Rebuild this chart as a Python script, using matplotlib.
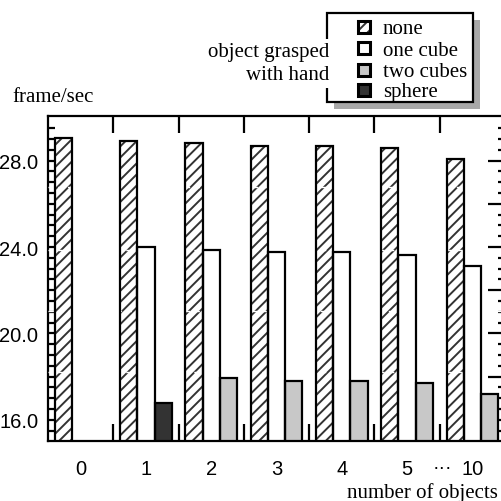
import numpy as np
import matplotlib
matplotlib.use("Agg")
import matplotlib.pyplot as plt
from matplotlib.patches import Rectangle
import matplotlib.transforms as mtransforms

# ---------------- data ----------------
groups = ['0', '1', '2', '3', '4', '5', '10']
series = ['none', 'one cube', 'two cubes', 'sphere']
none_vals = [29.05, 28.93, 28.82, 28.70, 28.70, 28.58, 28.08]
one_cube_vals = [np.nan, 24.02, 23.86, 23.76, 23.76, 23.63, 23.14]
two_cubes_vals = [np.nan, np.nan, 17.93, 17.81, 17.81, 17.70, 17.19]
sphere_vals = [np.nan, 16.78, np.nan, np.nan, np.nan, np.nan, np.nan]
ytick_vals = [16, 18, 20, 22, 24, 26, 28]
ytick_labels = ['16.0', '', '20.0', '', '24.0', '', '28.0']
white_grid = [18.2, 21.05, 23.85, 26.8]

W = H = 502
fig = plt.figure(figsize=(W / 100, H / 100), dpi=100)
plt.rcParams['hatch.linewidth'] = 1.4

# axes placement in pixels
ax_l, ax_r, ax_t, ax_b = 48, 505, 117, 442.3
ax = fig.add_axes([ax_l / W, 1 - ax_b / H, (ax_r - ax_l) / W, (ax_b - ax_t) / H])

x = np.arange(len(groups))
bw = 0.264
hatch_col = '#333333'
styles = [
    (none_vals, -bw, 'white', '///'),
    (one_cube_vals, 0.0, 'white', None),
    (two_cubes_vals, bw, '#c8c8c8', None),
    (sphere_vals, bw, '#333333', None),
]
for vals, off, fc, hatch in styles:
    vals = np.array(vals, dtype=float)
    if hatch:
        ax.bar(x + off, vals, bw, color=fc, edgecolor=hatch_col, hatch=hatch,
               linewidth=0, zorder=2)
    else:
        ax.bar(x + off, vals, bw, color=fc, edgecolor='none', linewidth=0, zorder=2)
    ax.bar(x + off, vals, bw, facecolor='none', edgecolor='black',
           linewidth=1.6, zorder=4)

for g in white_grid:
    ax.axhline(g, color='white', lw=1.0, ls=(0, (4, 3)), zorder=3)

ax.set_xlim(-0.5, 6.5)
ax.set_ylim(15, 30.07)

lab_font = dict(family='Liberation Sans', size=14.5)
ax.set_xticks(x)
ax.set_xticklabels(groups, **lab_font)
ax.set_xticks(x + 0.5, minor=True)
ax.tick_params(axis='x', which='major', length=0, pad=12.5)
ax.tick_params(axis='x', which='minor', direction='in', length=12.5, width=1.6,
               top=True, bottom=True)

ax.set_yticks(ytick_vals)
ax.set_yticklabels(ytick_labels, **lab_font)
minor_y = [v for v in np.arange(15.5, 30.0, 0.5) if v not in ytick_vals]
ax.set_yticks(minor_y, minor=True)
ax.tick_params(axis='y', which='major', direction='in', length=12.5, width=1.6,
               left=True, right=True, pad=7)
ax.tick_params(axis='y', which='minor', direction='in', length=5, width=1.6,
               left=True, right=True)
for s in ax.spines.values():
    s.set_linewidth(1.6)

# ellipsis between 5 and 10
trans = mtransforms.blended_transform_factory(ax.transData, ax.transAxes)
ax.text(5.535, -(469 - ax_b) / (ax_b - ax_t), '\u00b7\u00b7\u00b7', transform=trans,
        ha='center', va='center', fontsize=14, family='Liberation Sans',
        clip_on=False)

serif = dict(family='Liberation Serif', size=15)


def fx(px):
    return px / W


def fy(py):
    return 1 - py / H


fig.text(fx(12.5), fy(101.5), 'frame/sec', ha='left', va='baseline', **serif)
fig.text(fx(498), fy(498), 'number of objects', ha='right', va='baseline', **serif)

# legend box with shadow
bx0, bx1, by0, by1 = 327, 473, 14, 103
sh = 7
fig.add_artist(Rectangle((fx(bx0 + sh), fy(by1 + sh)), (bx1 - bx0) / W, (by1 - by0) / H,
                         transform=fig.transFigure, facecolor='#a8a8a8',
                         edgecolor='none', zorder=1))
fig.add_artist(Rectangle((fx(bx0), fy(by1)), (bx1 - bx0) / W, (by1 - by0) / H,
                         transform=fig.transFigure, facecolor='white',
                         edgecolor='black', linewidth=1.6, zorder=1.1))

fig.text(fx(329), fy(57.5), 'object grasped', ha='right', va='baseline', zorder=5,
         bbox=dict(facecolor='white', edgecolor='none', pad=2.5), **serif)
fig.text(fx(329), fy(80.5), 'with hand', ha='right', va='baseline', zorder=5,
         bbox=dict(facecolor='white', edgecolor='none', pad=2.5), **serif)

sw_fc = ['white', 'white', '#c8c8c8', '#333333']
sw_hatch = ['///', None, None, None]
row_c = [28.3, 49.3, 70.7, 90.7]
sw = 12
for lab, fc, h, cy in zip(series, sw_fc, sw_hatch, row_c):
    if h:
        fig.add_artist(Rectangle((fx(364 - sw / 2), fy(cy + sw / 2)), sw / W, sw / H,
                                 transform=fig.transFigure, facecolor=fc,
                                 edgecolor=hatch_col, hatch=h, linewidth=0, zorder=2))
    fig.add_artist(Rectangle((fx(364 - sw / 2), fy(cy + sw / 2)), sw / W, sw / H,
                             transform=fig.transFigure,
                             facecolor=('none' if h else fc),
                             edgecolor='black', linewidth=2.2, zorder=2.1))
    fig.text(fx(383), fy(cy + 6.2), lab, ha='left', va='baseline', zorder=5, **serif)

fig.savefig('out.png', dpi=100)
